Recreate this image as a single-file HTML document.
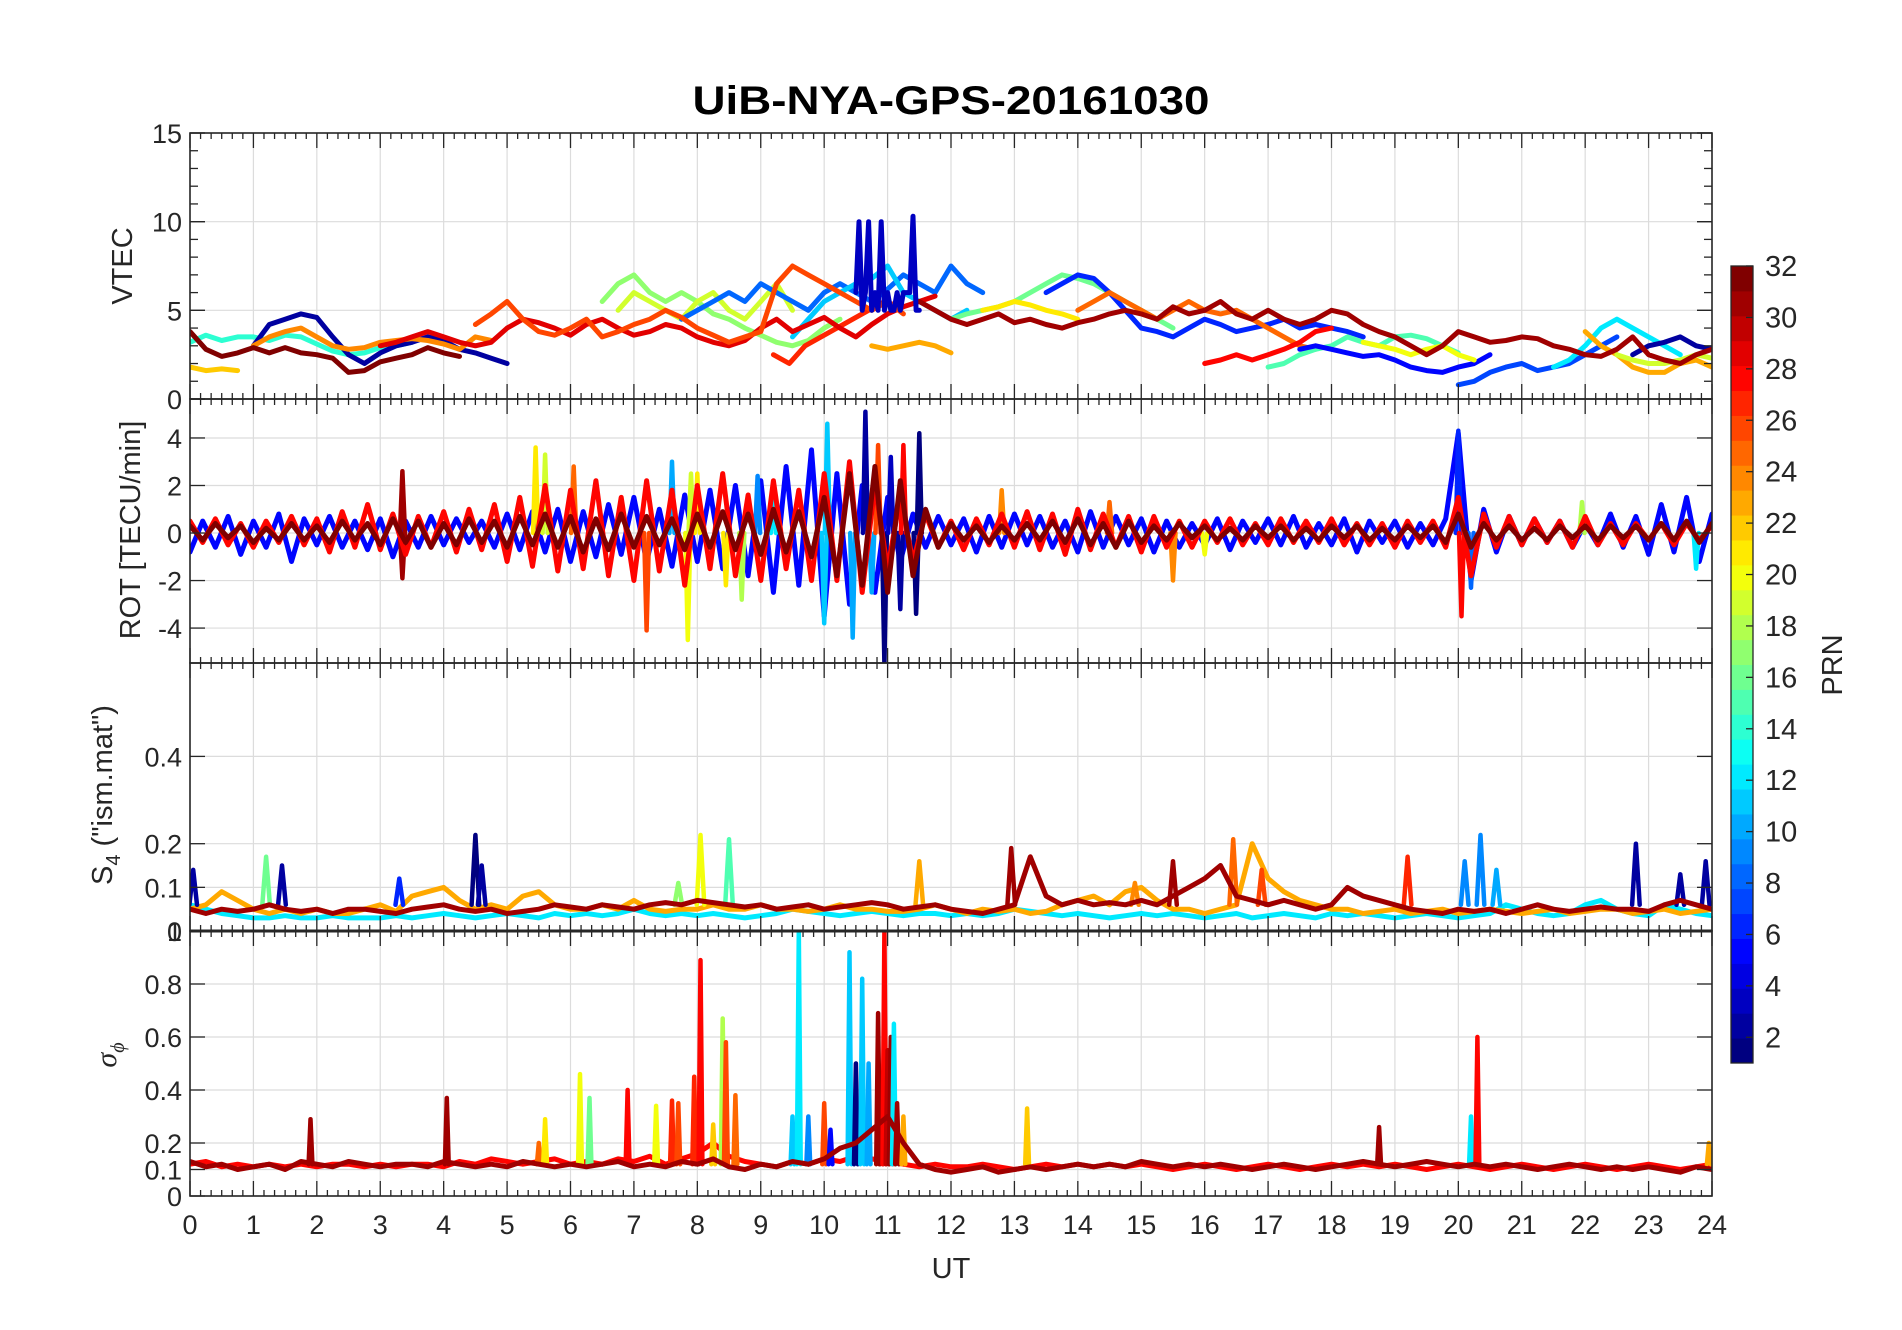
<!DOCTYPE html>
<html><head><meta charset="utf-8"><style>
html,body{margin:0;padding:0;background:#fff;}
svg{display:block;font-family:"Liberation Sans",Arial,sans-serif;}
</style></head><body>
<svg id="chart" width="1902" height="1330" viewBox="0 0 1902 1330" xmlns="http://www.w3.org/2000/svg">
<rect x="0" y="0" width="1902" height="1330" fill="#fff"/>
<text x="951" y="114" text-anchor="middle" font-size="40" font-weight="bold" fill="#000" textLength="517" lengthAdjust="spacingAndGlyphs">UiB-NYA-GPS-20161030</text>
<g id="panels"></g>
<g id="cbar"></g>
</svg>
<script>
// ---------- DATA ----------
const hourTicks = [0,1,2,3,4,5,6,7,8,9,10,11,12,13,14,15,16,17,18,19,20,21,22,23,24];
const vtecTicks = [0,5,10,15];
const rotTicks = [-4,-2,0,2,4];
const s4Ticks = [0,0.1,0.2,0.4];
const s4TickLabels = ["0","0.1","0.2","0.4"];
const sigTicks = [0,0.1,0.2,0.4,0.6,0.8,1];
const sigTickLabels = ["0","0.1","0.2","0.4","0.6","0.8","1"];
const cbarTicks = [2,4,6,8,10,12,14,16,18,20,22,24,26,28,30,32];

// VTEC segments: prn, start hour, step hour, values
const vtecPrn = [22,14,2,24,17,19,8,11,27,29,26,23,16,21,6,25,28,15,5,20,7,12,23,19,2,32,31,3];
const vtecT0 =  [0,0,1.0,1.0,6.5,6.75,7.75,9.5,9.2,3.0,4.5,10.75,12,12.5,13.5,14,16,17,17.5,18.5,20,21.5,22.0,22.5,22.75,0,11.5,10.5];
const vtecDt =  [0.25,0.25,0.25,0.25,0.25,0.25,0.25,0.25,0.25,0.25,0.25,0.25,0.25,0.25,0.25,0.25,0.25,0.25,0.25,0.25,0.25,0.25,0.25,0.25,0.25,0.25,0.25,0.05];
const vtecVals = [
 [1.8,1.6,1.7,1.6],
 [3.2,3.6,3.3,3.5,3.5,3.3,3.6,3.5,3.1,2.7,2.5,2.6,2.9,3.0,3.2],
 [3.0,4.2,4.5,4.8,4.6,3.5,2.5,2.0,2.6,3.0,3.2,3.5,3.3,2.8,2.6,2.3,2.0],
 [3.0,3.5,3.8,4.0,3.5,3.0,2.8,2.9,3.2,3.3,3.4,3.3,3.1,2.8,3.5,3.3],
 [5.5,6.5,7.0,6.0,5.5,6.0,5.5,4.8,4.5,4.0,3.6,3.2,3.0,3.3,4.0,4.5],
 [5.0,6.0,5.5,5.0,4.5,5.5,6.0,5.0,4.5,5.5,6.5,5.0],
 [4.5,5.0,5.5,6.0,5.5,6.5,6.0,5.5,5.0,6.0,6.5,6.0,5.5,6.2,7.0,6.5,6.0,7.5,6.5,6.0],
 [3.5,4.5,5.5,6.0,6.5,6.8,7.5,6.0,5.5,5.0,4.5,5.0],
 [2.5,2.0,3.0,3.5,4.0,4.5,5.0,5.5,5.2],
 [3.0,3.2,3.5,3.8,3.5,3.2,3.0,3.2,4.0,4.5,4.3,4.0,3.6,4.2,4.5,4.0,3.6,3.8,4.2,4.0,3.5,3.2,3.0,3.3,4.0,4.5,3.8,4.2,4.6,4.0,3.5,4.2,4.8,5.2,5.5,5.8],
 [4.2,4.8,5.5,4.5,3.8,3.6,4.0,4.5,3.5,3.8,4.2,4.5,5.0,4.6,4.0,3.6,3.2,3.5,3.8,6.5,7.5,7.0,6.5,6.0,5.5,5.0,5.5,4.8],
 [3.0,2.8,3.0,3.2,3.0,2.6],
 [4.5,4.8,5.0,5.2,5.5,6.0,6.5,7.0,6.8,6.5,6.0,5.5,5.0,4.5,4.0],
 [5.0,5.2,5.5,5.3,5.0,4.8,4.5],
 [6.0,6.5,7.0,6.8,6.0,5.0,4.0,3.8,3.5,4.0,4.5,4.2,3.8,4.0,4.2,4.5,4.0,4.2,4.0,3.8,3.5],
 [5.0,5.5,6.0,5.5,5.0,4.5,5.0,5.5,5.0,4.8,5.0,4.5,4.0,3.5,3.0,2.8],
 [2.0,2.2,2.5,2.2,2.5,2.8,3.2,3.8,4.0],
 [1.8,2.0,2.5,2.8,3.0,3.5,3.2,3.0,3.5,3.6,3.4,3.0,2.6],
 [2.8,3.0,2.8,2.6,2.4,2.5,2.2,1.8,1.6,1.5,1.8,2.0,2.5],
 [3.2,3.0,2.8,2.5,2.8,3.0,2.5,2.2],
 [0.8,1.0,1.5,1.8,2.0,1.6,1.8,2.0,2.5,3.0,3.5],
 [1.8,2.2,3.0,4.0,4.5,4.0,3.5,3.0,2.5],
 [3.8,3.0,2.5,1.8,1.5,1.5,2.0,2.2,1.8,1.8,1.5,1.6,1.8,2.0,1.8,1.6,1.5],
 [2.5,2.2,2.0,2.0,2.2,2.5,2.3,2.0,2.2],
 [2.5,3.0,3.2,3.5,3.0,2.8,3.2,3.5,2.5],
 [3.8,2.8,2.4,2.6,2.9,2.6,2.9,2.6,2.5,2.3,1.5,1.6,2.1,2.3,2.5,2.9,2.6,2.4],
 [5.5,5.0,4.5,4.2,4.5,4.8,4.3,4.5,4.2,4.0,4.3,4.5,4.8,5.0,4.8,4.5,5.2,4.8,5.0,5.5,4.8,4.5,5.0,4.5,4.2,4.5,5.0,4.8,4.2,3.8,3.5,3.0,2.5,3.0,3.8,3.5,3.2,3.3,3.5,3.4,3.0,2.8,2.5,2.4,2.8,3.5,2.5,2.2,2.0,2.5,2.8,3.2,3.5,3.3,3.0,2.5,2.2,2.0,2.2],
 [6,10,5,6,10,5,6,5,10,5,6,5,5,6,5,6,6,6,10.3,5,5]
];

// ROT noise series (step 0.2 h from 0)
const rotPrn = [5,28,32];
const rotA = [0.3,-0.3,0.4,-0.2,0.3,-0.4,0.2,-0.3,0.4,-0.3,0.3,-0.4,0.5,-0.3,0.4,-0.5,0.6,-0.4,0.5,-0.6,0.4,-0.5,0.6,-0.4,0.5,
 -0.6,0.7,-0.5,0.8,-0.6,0.7,-0.8,0.6,-0.7,0.8,-0.6,0.7,-0.5,0.6,-0.7,0.8,-0.6,0.9,-0.7,0.8,-0.9,1.0,-0.8,0.9,-1.0,
 1.5,-1.8,2.5,-2.2,2.8,-2.5,2.2,-1.8,1.0,-0.6,0.4,-0.3,0.3,-0.4,0.3,-0.3,0.4,-0.3,0.5,-0.4,0.6,-0.5,0.4,-0.6,0.5,
 -0.4,0.3,-0.3,0.4,-0.2,0.3,-0.3,0.2,-0.3,0.3,-0.2,0.3,-0.3,0.2,-0.3,0.3,-0.2,0.3,-0.3,0.2,-0.3,0.3,-0.2,0.3,-0.4,
 0.8,-0.6,0.4,-0.3,0.3,-0.3,0.2,-0.3,0.3,-0.2,0.3,-0.3,0.3,-0.2,0.3,-0.3,0.4,-0.3,0.5,-0.4,0.4];
const rotB = [0.5,-0.4,0.6,-0.5,0.4,-0.6,0.5,-0.4,0.7,-0.5,0.6,-0.8,0.9,-0.6,1.2,-0.7,0.8,-0.9,0.7,-0.6,0.9,-0.8,1.0,-0.7,1.2,
 -1.2,1.5,-1.4,2.0,-1.6,1.8,-1.5,2.2,-1.8,1.5,-2.0,2.2,-1.6,1.8,-2.2,2.0,-1.5,2.5,-1.8,1.6,-2.0,2.2,-1.5,1.8,-2.0,
 2.5,-2.0,3.0,-2.5,2.0,-1.5,1.5,-1.2,0.8,-0.6,0.5,-0.7,0.6,-0.5,0.8,-0.6,0.9,-0.7,0.8,-0.9,1.0,-0.7,0.8,-0.6,0.7,
 -0.8,0.7,-0.6,0.5,-0.6,0.5,-0.4,0.6,-0.5,0.4,-0.5,0.6,-0.4,0.5,-0.4,0.6,-0.5,0.4,-0.5,0.4,-0.6,0.5,-0.4,0.5,-0.6,
 1.5,-1.8,0.8,-0.6,0.7,-0.5,0.6,-0.4,0.5,-0.6,0.7,-0.5,0.4,-0.5,0.4,-0.3,0.4,-0.5,0.4,-0.3,0.3];
const rotC = [-0.8,0.5,-0.6,0.7,-0.9,0.5,-0.6,0.8,-1.2,0.6,-0.5,0.7,-0.6,0.5,-0.7,0.6,-1.0,0.5,-0.6,0.7,-0.5,0.6,-0.4,0.5,-0.6,
 0.8,-0.7,0.9,-0.8,1.0,-1.2,0.9,-1.0,1.2,-0.9,1.5,-1.2,1.0,-1.4,1.6,-1.2,1.8,-1.5,2.0,-1.8,2.2,-2.5,2.8,-2.2,3.5,
 -3.5,2.5,-3.0,2.0,-2.5,1.5,-1.2,0.8,-0.6,0.7,-0.5,0.6,-0.8,0.7,-0.6,0.8,-0.5,0.7,-0.6,0.5,-0.8,0.9,-0.6,0.7,-0.5,
 0.6,-0.8,0.5,-0.6,0.4,-0.5,0.6,-0.7,0.5,-0.4,0.6,-0.5,0.7,-0.6,0.4,-0.5,0.6,-0.8,0.5,-0.4,0.5,-0.6,0.4,-0.5,0.6,
 4.2,-2.0,1.0,-0.8,0.7,-0.5,0.6,-0.4,0.5,-0.6,0.4,-0.5,0.8,-0.6,0.7,-0.9,1.2,-0.8,1.5,-1.2,0.8];
const rotSpikeT = [3.35,3.35,5.45,5.6,6.05,7.2,7.85,7.9,8.0,8.45,8.7,8.95,9.2,10.0,10.05,10.45,10.65,10.75,10.85,10.95,11.05,11.2,11.25,11.45,11.5,12.8,14.5,15.5,16.0,20.0,20.05,20.2,21.95,23.75,7.6];
const rotSpikeV = [2.6,-1.9,3.6,3.3,2.8,-4.1,-4.5,2.5,2.5,-2.2,-2.8,2.4,1.6,-3.8,4.6,-4.4,5.1,-2.5,3.7,-5.5,3.2,-3.2,3.7,-3.4,4.2,1.8,1.3,-2.0,-0.9,4.3,-3.5,-2.3,1.3,-1.5,3.0];
const rotSpikeP = [31,31,21,19,25,26,20,19,21,21,18,9,12,11,11,10,2,10,26,1,3,2,28,1,1,24,25,24,20,6,28,8,18,12,10];

// S4 (step 0.25 h from 0)
const s4Prn = [12,23,31];
const s4C = [.06,.05,.04,.035,.03,.03,.035,.03,.03,.035,.03,.03,.03,.035,.03,.035,.04,.035,.03,.035,.04,.035,.03,.04,.035,
 .04,.035,.04,.05,.04,.035,.04,.035,.04,.035,.03,.035,.04,.05,.045,.04,.035,.04,.045,.04,.035,.04,.04,.035,
 .04,.035,.04,.05,.045,.04,.035,.04,.035,.03,.035,.04,.035,.04,.035,.03,.035,.04,.03,.035,.04,.035,.03,.04,
 .035,.04,.035,.03,.035,.04,.035,.03,.035,.04,.06,.05,.04,.035,.04,.06,.07,.05,.04,.035,.06,.05,.04,.035];
const s4B = [.05,.06,.09,.07,.05,.04,.05,.04,.05,.04,.04,.05,.06,.045,.08,.09,.10,.07,.05,.06,.05,.08,.09,.06,.05,
 .05,.06,.05,.07,.05,.045,.05,.05,.06,.05,.05,.06,.05,.05,.045,.05,.06,.05,.05,.045,.045,.05,.06,.05,
 .04,.05,.045,.05,.04,.045,.06,.07,.08,.06,.09,.10,.07,.05,.05,.04,.05,.06,.20,.12,.09,.07,.06,.05,
 .05,.04,.045,.05,.04,.045,.05,.04,.045,.05,.045,.04,.045,.05,.04,.045,.05,.05,.04,.045,.05,.04,.045,.05];
const s4A = [.05,.04,.05,.045,.05,.06,.05,.045,.05,.04,.05,.05,.045,.04,.05,.055,.06,.05,.045,.05,.04,.045,.05,.06,.055,
 .05,.06,.055,.05,.06,.065,.06,.07,.065,.06,.055,.06,.05,.055,.06,.05,.055,.06,.065,.06,.05,.055,.06,.05,
 .045,.04,.05,.06,.17,.08,.06,.07,.06,.065,.06,.07,.06,.08,.10,.12,.15,.08,.07,.06,.07,.06,.05,.06,
 .10,.08,.07,.06,.05,.045,.04,.05,.045,.05,.04,.05,.06,.05,.045,.05,.055,.05,.05,.045,.06,.07,.06,.05];
const s4BumpT = [0.05,1.2,1.45,3.3,4.5,4.6,7.7,8.05,8.5,11.5,12.95,14.9,15.5,16.45,16.9,19.2,20.1,20.35,20.6,22.8,23.5,23.9];
const s4BumpV = [.14,.17,.15,.12,.22,.15,.11,.22,.21,.16,.19,.11,.16,.21,.14,.17,.16,.22,.14,.2,.13,.16];
const s4BumpP = [2,16,2,6,1,2,17,20,15,23,31,24,31,25,26,27,9,9,10,2,2,2];

// sigma phi (step 0.25 h from 0)
const sigPrn = [28,31];
const sigB = [.12,.13,.11,.12,.11,.12,.11,.12,.11,.12,.12,.11,.12,.11,.12,.12,.11,.13,.12,.14,.13,.12,.13,.14,.12,
 .13,.12,.14,.13,.15,.12,.14,.16,.20,.15,.13,.12,.11,.13,.12,.14,.13,.15,.14,.13,.12,.11,.12,.11,
 .11,.12,.11,.10,.11,.12,.11,.12,.11,.12,.11,.12,.11,.10,.11,.12,.11,.10,.11,.12,.11,.10,.11,.12,
 .11,.12,.11,.12,.11,.10,.11,.12,.11,.10,.11,.12,.11,.10,.11,.12,.11,.10,.11,.12,.11,.10,.11,.12];
const sigA = [.13,.11,.12,.10,.11,.12,.10,.13,.12,.11,.13,.12,.11,.12,.12,.11,.13,.12,.11,.12,.11,.13,.12,.11,.12,
 .11,.12,.13,.11,.12,.11,.13,.12,.14,.11,.10,.12,.11,.13,.12,.14,.18,.20,.25,.30,.20,.12,.10,.09,
 .10,.11,.09,.10,.11,.10,.11,.12,.11,.12,.11,.13,.12,.11,.12,.11,.12,.11,.10,.11,.12,.11,.10,.11,
 .12,.13,.12,.11,.12,.13,.12,.11,.12,.11,.12,.11,.10,.11,.12,.11,.10,.11,.10,.11,.10,.09,.11,.10];
const sigSpikeT = [1.9,4.05,5.5,5.6,6.15,6.3,6.9,7.35,7.6,7.7,7.95,8.05,8.25,8.4,8.45,8.6,9.5,9.6,9.75,10.0,10.1,10.4,10.5,10.6,10.7,10.85,10.9,10.95,11.0,11.05,11.1,11.15,11.25,13.2,18.75,20.2,20.3,23.95];
const sigSpikeV = [.29,.37,.2,.29,.46,.37,.40,.34,.36,.35,.45,.89,.27,.67,.58,.38,.3,1.0,.3,.35,.25,.92,.5,.82,.5,.69,.4,1.0,.55,.6,.65,.35,.3,.33,.26,.3,.6,.2];
const sigSpikeP = [31,31,25,21,20,16,28,20,27,26,27,28,22,18,26,25,11,12,9,26,5,11,1,11,10,31,31,28,30,31,12,31,23,22,31,12,28,23];

// ---------- RENDER ----------
const NS = "http://www.w3.org/2000/svg";
const X0 = 190, X1 = 1712;
function xs(t){ return X0 + (t/24)*(X1-X0); }
function jet(prn){
  const v = (prn-1)/31;
  const c = k => Math.round(255*Math.max(0,Math.min(1,1.5-Math.abs(4*v-k))));
  return `rgb(${c(3)},${c(2)},${c(1)})`;
}
function mk(tag, attrs, parent){
  const e = document.createElementNS(NS, tag);
  for (const k in attrs) e.setAttribute(k, attrs[k]);
  parent.appendChild(e); return e;
}
const root = document.getElementById('panels');
const panels = [
  {name:'vtec', top:133, bot:399, y0:0, y1:15, ticks:vtecTicks, labels:vtecTicks.map(String), minor:1},
  {name:'rot', top:399, bot:663, y0:-5.47, y1:5.64, ticks:rotTicks, labels:rotTicks.map(String), minor:0},
  {name:'s4', top:663, bot:931, y0:0, y1:0.614, ticks:s4Ticks, labels:s4TickLabels, minor:0},
  {name:'sigma', top:931, bot:1196, y0:0, y1:1, ticks:sigTicks, labels:sigTickLabels, minor:0}
];
const defs = mk('defs',{},root);
panels.forEach(p=>{
  p.ys = v => p.bot - (v-p.y0)/(p.y1-p.y0)*(p.bot-p.top);
  const cp = mk('clipPath',{id:'clip-'+p.name},defs);
  mk('rect',{x:X0,y:p.top,width:X1-X0,height:p.bot-p.top},cp);
  const g = mk('g',{},root);
  
  
  p.g = g;
  hourTicks.forEach(h=>{
    const l = mk('line',{x1:xs(h),x2:xs(h),y1:p.top,y2:p.bot,stroke:'#dcdcdc','stroke-width':1.2},g);
    
    
  });
  p.ticks.forEach(v=>{
    const l = mk('line',{x1:X0,x2:X1,y1:p.ys(v),y2:p.ys(v),stroke:'#dcdcdc','stroke-width':1.2},g);
    
    
  });
  p.lines = mk('g',{'clip-path':'url(#clip-'+p.name+')','stroke-linejoin':'round','stroke-linecap':'round',fill:'none'},g);
  
  
});
function poly(p, pts, prn, w){
  const s = pts.map(q=>xs(q[0]).toFixed(1)+','+p.ys(q[1]).toFixed(1)).join(' ');
  const e = mk('polyline',{points:s,stroke:jet(prn),'stroke-width':w||5},p.lines);
  
  
}
function series(p, t0, dt, vals, prn){
  poly(p, vals.map((v,i)=>[t0+i*dt, v]), prn);
}
function spike(p, t, v, base, prn, hw){
  poly(p, [[t-hw,base],[t,v],[t+hw,base]], prn, 4.5);
}
const pV = panels[0];
vtecVals.forEach((vals,i)=>series(pV, vtecT0[i], vtecDt[i], vals, vtecPrn[i]));
const pR = panels[1];
series(pR,0,0.2,rotC,rotPrn[0]);
rotSpikeT.forEach((t,i)=>spike(pR,t,rotSpikeV[i],0,rotSpikeP[i],0.04));
series(pR,0,0.2,rotB,rotPrn[1]);
series(pR,0,0.2,rotA,rotPrn[2]);
const pS = panels[2];
series(pS,0,0.25,s4C,s4Prn[0]);
series(pS,0,0.25,s4B,s4Prn[1]);
s4BumpT.forEach((t,i)=>spike(pS,t,s4BumpV[i],0.06,s4BumpP[i],0.06));
series(pS,0,0.25,s4A,s4Prn[2]);
const pG = panels[3];
series(pG,0,0.25,sigB,sigPrn[0]);
sigSpikeT.forEach((t,i)=>spike(pG,t,sigSpikeV[i],0.12,sigSpikeP[i],0.03));
series(pG,0,0.25,sigA,sigPrn[1]);

panels.forEach((p,pi)=>{
  const g = p.g;
  const fr = mk('rect',{x:X0,y:p.top,width:X1-X0,height:p.bot-p.top,fill:'none',stroke:'#262626','stroke-width':1.6},g);
  
  
  for (let m=0;m<=144;m++){
    const x = xs(m/6), major = m%6===0, len = major?15:6;
    mk('line',{x1:x,x2:x,y1:p.bot,y2:p.bot-len,stroke:'#262626','stroke-width':1.3},g);
    mk('line',{x1:x,x2:x,y1:p.top,y2:p.top+len,stroke:'#262626','stroke-width':1.3},g);
  }
  if (p.minor){
    for (let v=p.y0; v<=p.y1; v+=p.minor){
      const y=p.ys(v), len = (v%5===0)?15:8;
      mk('line',{x1:X0,x2:X0+len,y1:y,y2:y,stroke:'#262626','stroke-width':1.3},g);
      mk('line',{x1:X1,x2:X1-len,y1:y,y2:y,stroke:'#262626','stroke-width':1.3},g);
    }
  }
  p.ticks.forEach((v,i)=>{
    const y=p.ys(v);
    mk('line',{x1:X0,x2:X0+15,y1:y,y2:y,stroke:'#262626','stroke-width':1.3},g);
    mk('line',{x1:X1,x2:X1-15,y1:y,y2:y,stroke:'#262626','stroke-width':1.3},g);
    const t = mk('text',{x:X0-8,y:y+10,'text-anchor':'end','font-size':27,fill:'#262626'},g);
    t.textContent = p.labels[i];
    
    
  });
});
mk('line',{x1:X0,x2:X1,y1:931,y2:931,stroke:'#262626','stroke-width':3},root);
hourTicks.forEach(h=>{
  const t = mk('text',{x:xs(h),y:1234,'text-anchor':'middle','font-size':27,fill:'#262626'},root);
  t.textContent = String(h);
  
  
});
function lbl(txt,x,y,name,rot,size){
  const t = mk('text',{x:x,y:y,'text-anchor':'middle','font-size':size||29,fill:'#262626'},root);
  if(rot) t.setAttribute('transform',`rotate(-90 ${x} ${y})`);
  t.textContent = txt;
  
  
  return t;
}
lbl('UT',951,1278,'x-axis-title');
lbl('VTEC',132,266,'vtec-axis-title',true);
lbl('ROT [TECU/min]',140,530,'rot-axis-title',true);
const s4t = lbl('',112,795,'s4-axis-title',true);
s4t.innerHTML = 'S<tspan font-size="20" dy="8">4</tspan><tspan dy="-8"> ("ism.mat")</tspan>';
const sgt = lbl('',116,1055,'sigma-axis-title',true,30);
sgt.innerHTML = '<tspan font-style="italic" font-family="Liberation Serif,serif">σ</tspan><tspan font-size="20" dy="8" font-style="italic" font-family="Liberation Serif,serif">ϕ</tspan>';

const cb = document.getElementById('cbar');


const CB0=1731, CBW=22, CBT=266, CBB=1063;
for (let k=1;k<=32;k++){
  const h=(CBB-CBT)/32;
  const r = mk('rect',{x:CB0,y:CBB-k*h,width:CBW,height:h+0.5,fill:jet(k)},cb);
  
  
}
mk('rect',{x:CB0,y:CBT,width:CBW,height:CBB-CBT,fill:'none',stroke:'#262626','stroke-width':1.3},cb);
const cys = v => CBB - (v-1)/31*(CBB-CBT);
cbarTicks.forEach(v=>{
  const y=cys(v);
  mk('line',{x1:CB0+CBW-7,x2:CB0+CBW,y1:y,y2:y,stroke:'#262626','stroke-width':1.3},cb);
  const t=mk('text',{x:1765,y:y+10,'font-size':29,fill:'#262626'},cb);
  t.textContent=String(v);
  
  
});
lbl('PRN',1842,665,'colorbar-title',true);
</script>
</body></html>
